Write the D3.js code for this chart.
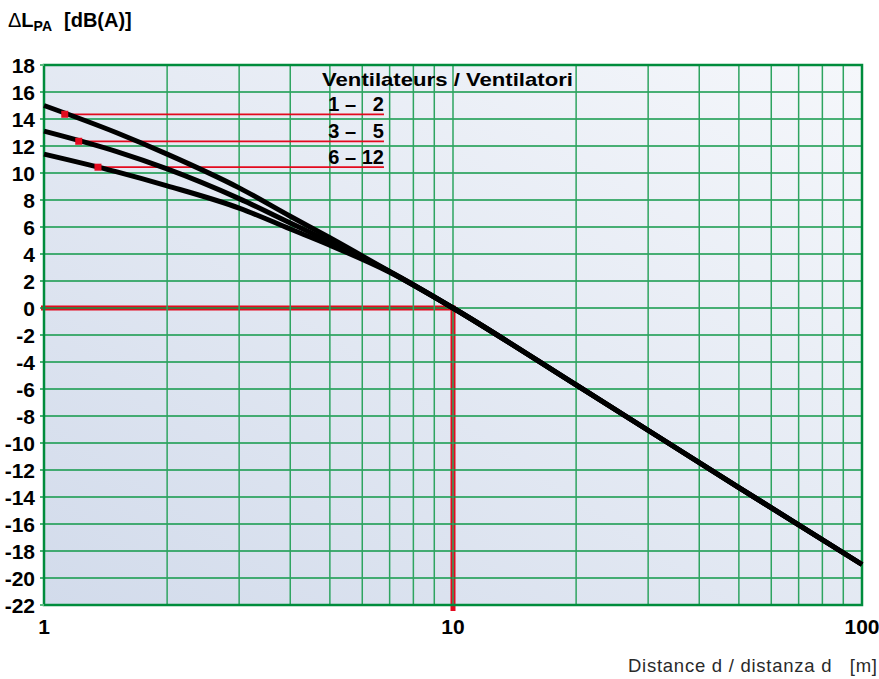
<!DOCTYPE html>
<html>
<head>
<meta charset="UTF-8">
<script src="https://cdn.jsdelivr.net/npm/d3@7"></script>
<style>
body{
  margin:0;
  background-color:#fff
}
</style>
</head>
<body>
<script>
// sound pressure level change vs distance, for groups of fans

var distances = [1, 1.5, 2, 3, 4, 5, 7, 10, 20, 50, 100]
var fans1to2  = [15.0, 13.0, 11.4, 8.9, 6.8, 5.2, 2.7, 0, -5.7, -13.3, -19]
var fans3to5  = [13.1, 11.6, 10.3, 8.1, 6.3, 4.9, 2.7, 0, -5.7, -13.3, -19]
var fans6to12 = [11.4, 10.1, 9.05, 7.4, 5.85, 4.65, 2.65, 0, -5.7, -13.3, -19]

var legendLabels = ["1 \u2013   2", "3 \u2013   5", "6 \u2013 12"]
var legendAtD = [1.124, 1.216, 1.355]
var legendAtL = [14.35, 12.35, 10.43]
var legendEndD = 6.78

var yTicks = d3.range(-22, 19, 2)
var xLabels = [1, 10, 100]
var xGrid = [2,3,4,5,6,7,8,9,10,20,30,40,50,60,70,80,90]

var width = 879
var height = 679
var plotLeft = 44, plotTop = 65, plotRight = 862, plotBottom = 605

var x = d3.scaleLog().domain([1, 100]).range([plotLeft, plotRight])
var y = d3.scaleLinear().domain([-22, 18]).range([plotBottom, plotTop])

var svg = d3.select('body')
    .append('svg')
    .attr('width', width)
    .attr('height', height)
    .style('font-family', '"Liberation Sans", Arial, sans-serif')

var defs = svg.append('defs')
var grad = defs.append('linearGradient')
    .attr('id', 'bg')
    .attr('x1', '0%').attr('y1', '100%')
    .attr('x2', '100%').attr('y2', '0%')
grad.append('stop').attr('offset', '0%').attr('stop-color', '#d2dbeb')
grad.append('stop').attr('offset', '100%').attr('stop-color', '#f5f7fb')

svg.append('rect')
    .attr('x', plotLeft)
    .attr('y', plotTop)
    .attr('width', plotRight - plotLeft)
    .attr('height', plotBottom - plotTop)
    .attr('fill', 'url(#bg)')

// red reference cross at 10 m / 0 dB
svg.append('line')
    .attr('x1', plotLeft - 3).attr('x2', x(10) + 2.5)
    .attr('y1', y(0)).attr('y2', y(0))
    .attr('stroke', '#e30a1e').attr('stroke-width', 5)
svg.append('line')
    .attr('x1', x(10)).attr('x2', x(10))
    .attr('y1', y(0)).attr('y2', plotBottom + 6)
    .attr('stroke', '#e30a1e').attr('stroke-width', 5)

// grid
svg.selectAll('.hgrid')
  .data(yTicks.filter(d => d > -22 && d < 18))
  .enter().append('line')
    .attr('x1', plotLeft - 4).attr('x2', plotRight)
    .attr('y1', d => y(d)).attr('y2', d => y(d))
    .attr('stroke', '#119848').attr('stroke-width', 1.4)

svg.selectAll('.vgrid')
  .data(xGrid)
  .enter().append('line')
    .attr('x1', d => x(d)).attr('x2', d => x(d))
    .attr('y1', plotTop).attr('y2', plotBottom)
    .attr('stroke', '#2ea460').attr('stroke-width', 1.5)

// frame
svg.append('rect')
    .attr('x', plotLeft)
    .attr('y', plotTop)
    .attr('width', plotRight - plotLeft)
    .attr('height', plotBottom - plotTop)
    .attr('fill', 'none')
    .attr('stroke', '#008c3c')
    .attr('stroke-width', 2.5)

svg.selectAll('.ytick')
  .data([18, -22])
  .enter().append('line')
    .attr('x1', plotLeft - 4).attr('x2', plotLeft)
    .attr('y1', d => y(d)).attr('y2', d => y(d))
    .attr('stroke', '#5dbb80').attr('stroke-width', 2)

// legend
var legend = svg.append('g')
legend.append('text')
    .attr('x', 322)
    .attr('y', 86)
    .attr('font-size', 19)
    .attr('font-weight', 'bold')
    .attr('fill', '#000')
    .attr('textLength', 251)
    .attr('lengthAdjust', 'spacingAndGlyphs')
    .text('Ventilateurs / Ventilatori')

legend.selectAll('.lline')
  .data(legendAtD)
  .enter().append('line')
    .attr('x1', d => x(d))
    .attr('x2', x(legendEndD))
    .attr('y1', (d, i) => y(legendAtL[i]))
    .attr('y2', (d, i) => y(legendAtL[i]))
    .attr('stroke', '#e30a1e')
    .attr('stroke-width', 1.8)

legend.selectAll('.llabel')
  .data(legendLabels)
  .enter().append('text')
    .attr('x', x(legendEndD))
    .attr('y', (d, i) => y(legendAtL[i]) - 3)
    .attr('text-anchor', 'end')
    .attr('font-size', 20)
    .attr('font-weight', 'bold')
    .attr('xml:space', 'preserve')
    .style('white-space', 'pre')
    .text(d => d)

// curves
var line = d3.line()
    .x((d, i) => x(distances[i]))
    .y(d => y(d))
    .curve(d3.curveMonotoneX)

svg.selectAll('.curve')
  .data([fans1to2, fans3to5, fans6to12])
  .enter().append('path')
    .attr('d', line)
    .attr('fill', 'none')
    .attr('stroke', '#000')
    .attr('stroke-width', 5)

svg.selectAll('.lmark')
  .data(legendAtD)
  .enter().append('rect')
    .attr('x', d => x(d) - 3.5)
    .attr('y', (d, i) => y(legendAtL[i]) - 3.5)
    .attr('width', 7)
    .attr('height', 7)
    .attr('fill', '#e30a1e')

// axes labels
svg.selectAll('.ylabel')
  .data(yTicks)
  .enter().append('text')
    .attr('x', 35)
    .attr('y', d => y(d) + 7.5)
    .attr('text-anchor', 'end')
    .attr('font-size', 21)
    .attr('font-weight', 'bold')
    .text(d => String(d))

svg.selectAll('.xlabel')
  .data(xLabels)
  .enter().append('text')
    .attr('x', d => x(d))
    .attr('y', 634)
    .attr('text-anchor', 'middle')
    .attr('font-size', 21)
    .attr('font-weight', 'bold')
    .text(d => String(d))

var title = svg.append('text')
    .attr('x', 8)
    .attr('y', 27)
    .attr('font-size', 20)
    .attr('font-weight', 'bold')
title.append('tspan').attr('font-weight', 'normal').text('\u0394')
title.append('tspan').text('L')
title.append('tspan').attr('font-size', 14).attr('dy', 4).text('PA')
title.append('tspan').attr('dy', -4).attr('dx', 12).text('[dB(A)]')

svg.append('text')
    .attr('x', 877)
    .attr('y', 672)
    .attr('text-anchor', 'end')
    .attr('font-size', 18.5)
    .attr('fill', '#2a2a2a')
    .attr('xml:space', 'preserve')
    .attr('textLength', 249)
    .style('white-space', 'pre')
    .text('Distance d / distanza d   [m]')
</script>
</body>
</html>
